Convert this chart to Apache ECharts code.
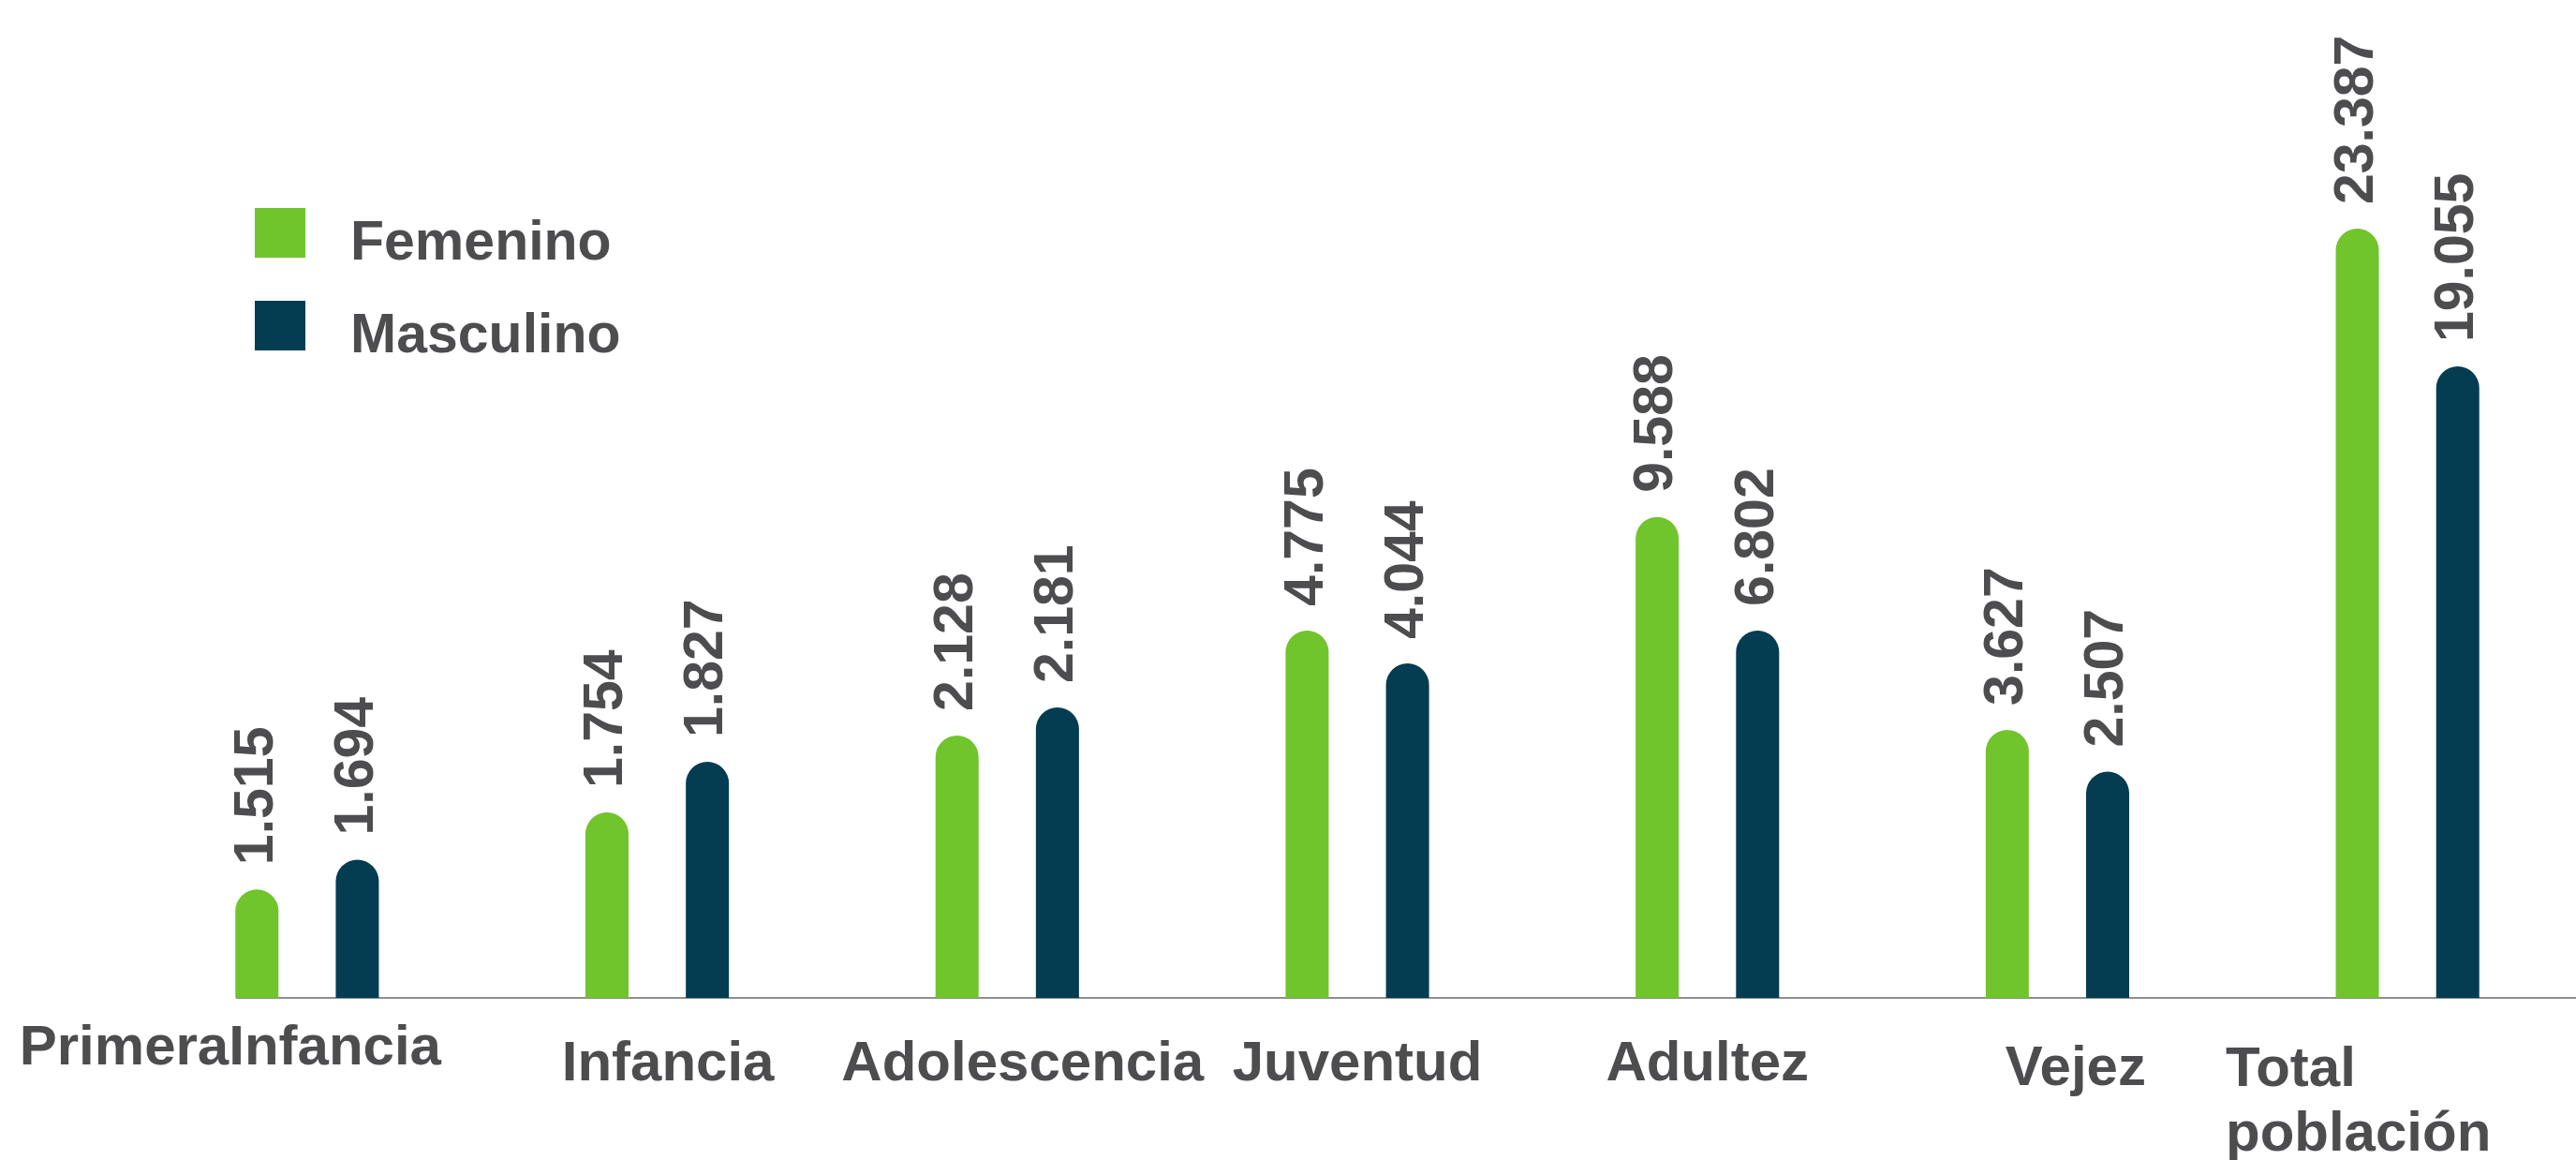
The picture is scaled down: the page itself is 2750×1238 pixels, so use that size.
<!DOCTYPE html>
<html>
<head>
<meta charset="utf-8">
<script src="https://cdn.jsdelivr.net/npm/echarts@6/dist/echarts.min.js"></script>
<style>
html,body{margin:0;padding:0;background:#ffffff;}
#c{width:2750px;height:1238px;}
</style>
</head>
<body>
<div id="c"></div>
<script>
// ---- data ----
const categories = ['PrimeraInfancia', 'Infancia', 'Adolescencia', 'Juventud', 'Adultez', 'Vejez', 'Total población'];
// values printed above the bars
const femenino  = [1515, 1754, 2128, 4775, 9588, 3627, 23387];
const masculino = [1694, 1827, 2181, 4044, 6802, 2507, 19055];
// bar heights as drawn in the reference (the picture is not to the scale of the printed values;
// read against the scale set by the "Total población" bars)
const femeninoAltura  = [3300, 5640, 7980, 11170, 14620, 8150, 23387];
const masculinoAltura = [4200, 7180, 8830, 10170, 11170, 6880, 19200];
const seriesNames = ['Femenino', 'Masculino'];

// ---- styling ----
const FONT = "'Liberation Sans', Arial, sans-serif";
const TXT = '#4d4d4f';
const GREEN = '#70c42c';
const NAVY = '#043c52';

function fmt(n) { return String(n).replace(/\B(?=(\d{3})+(?!\d))/g, '.'); }

const base = { fontFamily: FONT, fontSize: 60, fontWeight: 'bold', color: TXT, lineHeight: 69 };
const richX = {
  pi:   Object.assign({}, base, { padding: [0, 164, 0, 0] }),
  inf:  Object.assign({}, base, { padding: [34, 0, 0, 23] }),
  ado:  Object.assign({}, base, { padding: [34, 0, 0, 33] }),
  juv:  Object.assign({}, base, { padding: [34, 0, 0, 0] }),
  adu:  Object.assign({}, base, { padding: [34, 0, 0, 0] }),
  vej:  Object.assign({}, base, { padding: [44, 0, 0, 39] }),
  totA: Object.assign({}, base, { padding: [25, 105, 0, 0], align: 'left', lineHeight: 90 }),
  totB: Object.assign({}, base, { padding: [0, 105, 0, 0], align: 'left', lineHeight: 72 })
};
const keyFor = ['pi', 'inf', 'ado', 'juv', 'adu', 'vej'];

function barLabel(values) {
  return {
    show: true,
    position: 'top',
    rotate: 90,
    align: 'left',
    verticalAlign: 'middle',
    distance: 26,
    fontFamily: FONT,
    fontSize: 59,
    fontWeight: 'bold',
    color: TXT,
    formatter: p => fmt(values[p.dataIndex])
  };
}

const chart = echarts.init(document.getElementById('c'), null, { renderer: 'canvas' });
chart.setOption({
  animation: false,
  backgroundColor: '#ffffff',
  legend: {
    data: seriesNames,
    orient: 'vertical',
    left: 272,
    top: 207,
    padding: 0,
    itemWidth: 54,
    itemHeight: 53,
    itemGap: 16,
    icon: 'rect',
    formatter: name => '{t|' + name + '}',
    textStyle: {
      fontFamily: FONT, fontSize: 59, fontWeight: 'bold', color: TXT,
      rich: { t: { fontFamily: FONT, fontSize: 59, fontWeight: 'bold', color: TXT, lineHeight: 53, padding: [24, 0, 0, 43] } }
    }
  },
  grid: [
    { left: 141, width: 2616, top: 12, bottom: 173, containLabel: false, outerBoundsMode: 'none' },
    { left: 253, right: 0, top: 12, bottom: 173, containLabel: false, outerBoundsMode: 'none' }
  ],
  xAxis: [
    {
      type: 'category',
      gridIndex: 0,
      data: categories,
      axisLine: { show: false },
      axisTick: { show: false },
      splitLine: { show: false },
      axisLabel: {
        interval: 0,
        margin: 20,
        fontFamily: FONT, fontSize: 60, fontWeight: 'bold', color: TXT,
        formatter: (value, idx) => {
          if (value === 'Total población') return '{totA|Total}\n{totB|población}';
          return '{' + keyFor[idx] + '|' + value + '}';
        },
        rich: richX
      }
    },
    {
      type: 'value',
      gridIndex: 1,
      min: 0, max: 1,
      axisLine: { show: true, onZero: false, lineStyle: { color: '#8e8e8e', width: 2 } },
      axisTick: { show: false },
      axisLabel: { show: false },
      splitLine: { show: false }
    }
  ],
  yAxis: [
    { type: 'value', gridIndex: 0, min: 0, max: 30000, show: false, splitLine: { show: false } },
    { type: 'value', gridIndex: 1, min: 0, max: 1, show: false, splitLine: { show: false } }
  ],
  series: [
    {
      name: seriesNames[0],
      type: 'bar',
      xAxisIndex: 0, yAxisIndex: 0,
      data: femeninoAltura,
      barWidth: 46,
      barGap: '133%',
      itemStyle: { color: GREEN, borderRadius: [23, 23, 0, 0] },
      label: barLabel(femenino)
    },
    {
      name: seriesNames[1],
      type: 'bar',
      xAxisIndex: 0, yAxisIndex: 0,
      data: masculinoAltura,
      barWidth: 46,
      barGap: '133%',
      itemStyle: { color: NAVY, borderRadius: [23, 23, 0, 0] },
      label: barLabel(masculino)
    }
  ]
});
</script>
</body>
</html>
